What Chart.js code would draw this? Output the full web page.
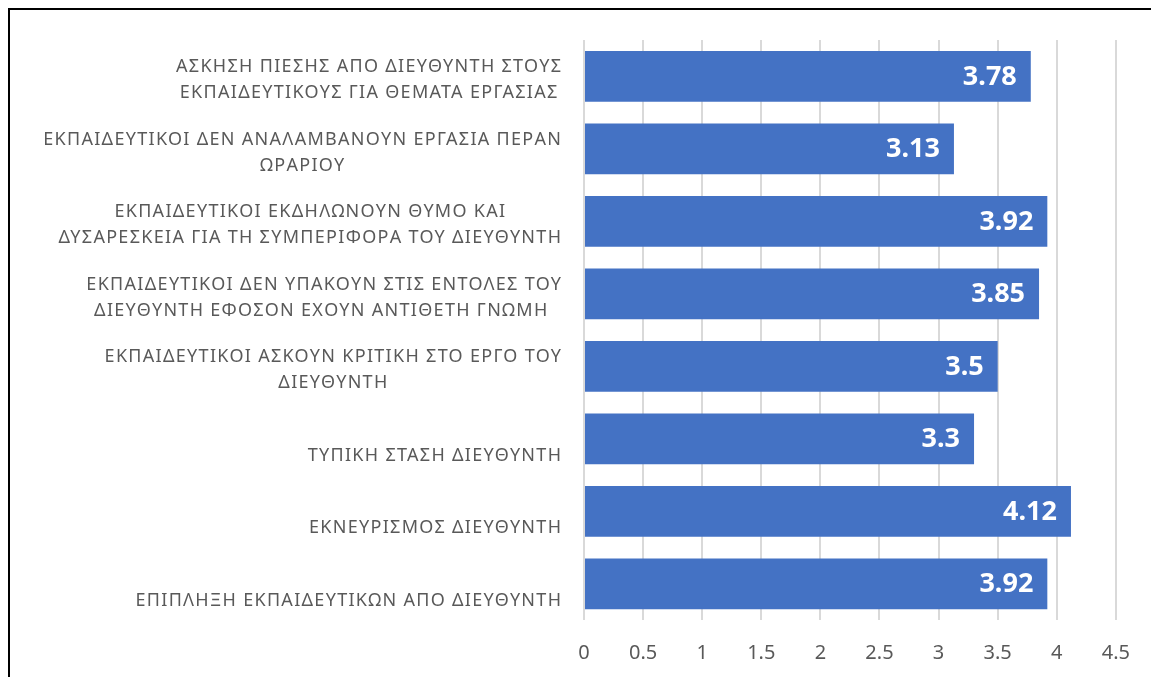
<!DOCTYPE html>
<html>
<head>
<meta charset="utf-8">
<script src="https://cdn.jsdelivr.net/npm/chart.js"></script>
<style>
  html, body { margin: 0; padding: 0; background: #fff; }
  #frame {
    position: absolute;
    left: 8px;
    top: 8px;
    width: 1143px;
    height: 669px;
    border-left: 2px solid #000;
    border-top: 2px solid #000;
  }
  #chart { display: block; }
</style>
</head>
<body>
<div id="frame">
  <canvas id="chart" width="1141" height="667"></canvas>
</div>
<script>
// categories, top to bottom (two lines each; single ones sit on the lower line)
const categories = [
    ["ΑΣΚΗΣΗ ΠΙΕΣΗΣ ΑΠΟ ΔΙΕΥΘΥΝΤΗ ΣΤΟΥΣ", "ΕΚΠΑΙΔΕΥΤΙΚΟΥΣ ΓΙΑ ΘΕΜΑΤΑ ΕΡΓΑΣΙΑΣ"],
    ["ΕΚΠΑΙΔΕΥΤΙΚΟΙ ΔΕΝ ΑΝΑΛΑΜΒΑΝΟΥΝ ΕΡΓΑΣΙΑ ΠΕΡΑΝ", "ΩΡΑΡΙΟΥ"],
    ["ΕΚΠΑΙΔΕΥΤΙΚΟΙ ΕΚΔΗΛΩΝΟΥΝ ΘΥΜΟ ΚΑΙ", "ΔΥΣΑΡΕΣΚΕΙΑ ΓΙΑ ΤΗ ΣΥΜΠΕΡΙΦΟΡΑ ΤΟΥ ΔΙΕΥΘΥΝΤΗ"],
    ["ΕΚΠΑΙΔΕΥΤΙΚΟΙ ΔΕΝ ΥΠΑΚΟΥΝ ΣΤΙΣ ΕΝΤΟΛΕΣ ΤΟΥ", "ΔΙΕΥΘΥΝΤΗ ΕΦΟΣΟΝ ΕΧΟΥΝ ΑΝΤΙΘΕΤΗ ΓΝΩΜΗ "],
    ["ΕΚΠΑΙΔΕΥΤΙΚΟΙ ΑΣΚΟΥΝ ΚΡΙΤΙΚΗ ΣΤΟ ΕΡΓΟ ΤΟΥ", "ΔΙΕΥΘΥΝΤΗ"],
    ["", "ΤΥΠΙΚΗ ΣΤΑΣΗ ΔΙΕΥΘΥΝΤΗ"],
    ["", "ΕΚΝΕΥΡΙΣΜΟΣ ΔΙΕΥΘΥΝΤΗ"],
    ["", "ΕΠΙΠΛΗΞΗ ΕΚΠΑΙΔΕΥΤΙΚΩΝ ΑΠΟ ΔΙΕΥΘΥΝΤΗ"]
];
const values = [3.78, 3.13, 3.92, 3.85, 3.5, 3.3, 4.12, 3.92];
const xTicks = [0, 0.5, 1, 1.5, 2, 2.5, 3, 3.5, 4, 4.5];

const GRAY = "#595959";
const FONT = "'Noto Sans', sans-serif";
const SPACING = 1.3;

// category labels: block right-aligned to the axis, lines centred inside it
const categoryLabels = {
    id: "categoryLabels",
    afterDraw(chart) {
        const ctx = chart.ctx;
        const y = chart.scales.y;
        ctx.save();
        ctx.font = "18px " + FONT;
        ctx.letterSpacing = SPACING + "px";
        ctx.fillStyle = GRAY;
        ctx.textAlign = "center";
        ctx.textBaseline = "middle";
        const right = y.right - 23 + SPACING;
        const lineGap = 26;
        categories.forEach((lines, i) => {
            const w = Math.max(...lines.map(l => ctx.measureText(l.trimEnd()).width));
            const cx = right - w / 2;
            const cy = y.getPixelForTick(i) + 4;
            lines.forEach((l, k) => {
                if (!l) return;
                const lw = ctx.measureText(l.trimEnd()).width;
                const full = ctx.measureText(l).width;
                ctx.fillText(l.trimEnd(), cx - (full - lw) / 2, cy + (k - 0.5) * lineGap);
            });
        });
        ctx.restore();
    }
};

// value labels inside the bar ends
const valueLabels = {
    id: "valueLabels",
    afterDatasetsDraw(chart) {
        const ctx = chart.ctx;
        const meta = chart.getDatasetMeta(0);
        ctx.save();
        ctx.font = "bold 27px " + FONT;
        ctx.fillStyle = "#ffffff";
        ctx.textAlign = "right";
        ctx.textBaseline = "middle";
        meta.data.forEach((bar, i) => {
            ctx.fillText(String(values[i]), bar.x - 14, bar.y + 1);
        });
        ctx.restore();
    }
};

new Chart(document.getElementById("chart"), {
    type: "bar",
    data: {
        labels: categories,
        datasets: [{
            data: values,
            backgroundColor: "#4472C4",
            borderWidth: 0,
            categoryPercentage: 1,
            barPercentage: 0.7
        }]
    },
    options: {
        indexAxis: "y",
        responsive: false,
        animation: false,
        layout: {
            padding: { top: 30, right: 35, left: 0, bottom: 0 }
        },
        plugins: {
            legend: { display: false },
            tooltip: { enabled: false }
        },
        scales: {
            x: {
                min: 0,
                max: 4.5,
                afterBuildTicks(scale) {
                    scale.ticks = xTicks.map(v => ({ value: v }));
                },
                afterFit(scale) {
                    scale.height = 57;
                },
                grid: {
                    color: "#d9d9d9",
                    lineWidth: 2,
                    drawTicks: false
                },
                border: { display: false },
                ticks: {
                    color: GRAY,
                    padding: 21,
                    font: { family: FONT, size: 20 },
                    callback: v => String(v)
                }
            },
            y: {
                afterFit(scale) {
                    scale.width = 574;
                },
                grid: { display: false },
                border: { display: false },
                ticks: { display: false }
            }
        }
    },
    plugins: [categoryLabels, valueLabels]
});
</script>
</body>
</html>
